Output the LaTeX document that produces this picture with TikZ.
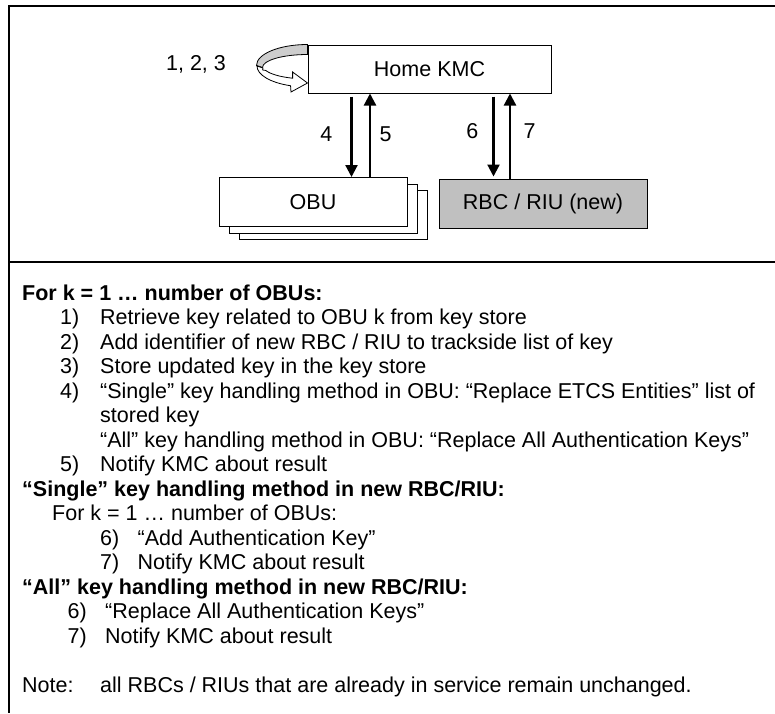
\documentclass[tikz,border=0pt]{standalone}
\usepackage{fontspec}
\setmainfont{Liberation Sans}
\usetikzlibrary{arrows.meta}
\definecolor{rbcgrey}{RGB}{192,192,192}
\definecolor{loopgrey}{RGB}{205,205,205}

\begin{document}
\begin{tikzpicture}[x=1pt, y=-1pt,
  every node/.style={font=\fontsize{21.5}{24}\selectfont},
  box/.style={draw=black, line width=1pt, fill=white, inner sep=0pt},
  flow/.style={line width=2.2pt, -{Triangle[length=12pt, width=12pt]}},
  frame/.style={line width=1.5pt},
  num/.style={inner sep=0pt},
  txt/.style={anchor=base west, inner sep=0pt},
  head/.style={txt, font=\fontsize{21.5}{24}\selectfont\bfseries}]
 \useasboundingbox (0,0) rectangle (775,713);
 % frame
 \draw[frame] (775,6) -- (9,6) -- (9,713);
 \draw[frame] (9,262) -- (775,262);
 \begin{scope}
        \node[box, minimum width=243pt, minimum height=48pt] (kmc) at (429.5,69) {Home KMC};
        \node[box, minimum width=188pt, minimum height=49pt] (obu-3) at (333.5,214.5) {};
        \node[box, minimum width=188pt, minimum height=49pt] (obu-2) at (323.5,208.5) {};
        \node[box, minimum width=188pt, minimum height=49pt] (obu) at (313,202) {OBU};
        \node[box, fill=rbcgrey, minimum width=208pt, minimum height=49pt] (rbc) at (543,203.5) {RBC / RIU (new)};
        \node[inner sep=0pt] (loop-lbl) at (196,64) {1, 2, 3};
        % loop arrow round the left side of the KMC box
        \draw[line width=0.8pt, fill=loopgrey] (kmc.north west) arc[start angle=270, end angle=180, x radius=51, y radius=21] -- ++(6,2) arc[start angle=180, end angle=270, x radius=45, y radius=13] -- cycle;
        \draw[line width=0.8pt, fill=white] (257,66) arc[start angle=180, end angle=110, x radius=51, y radius=21] -- (291,92) -- (kmc.west |- 0,83) -- (292.6,72) -- (292.6,78.2) arc[start angle=110, end angle=160, x radius=45, y radius=13] .. controls (262,70) .. (263,68) -- cycle;
        \draw[flow] ([xshift=44pt, yshift=-3pt]kmc.south west) -- ([xshift=44pt]kmc.south west |- obu.north) node[midway, num, left=18pt, yshift=2.5pt] {4};
        \draw[flow] ([xshift=62.5pt]kmc.south west |- obu.north) -- ([xshift=62.5pt]kmc.south west) node[midway, num, right=8.4pt, yshift=1pt] {5};
        \draw[flow] ([xshift=186pt, yshift=-3pt]kmc.south west) -- ([xshift=186pt, yshift=2pt]kmc.south west |- rbc.north) node[midway, num, left=14pt, yshift=5.5pt] {6};
        \draw[flow] ([xshift=202.5pt]kmc.south west |- rbc.north) -- ([xshift=202.5pt]kmc.south west) node[midway, num, right=12.5pt, yshift=5pt] {7};
 \end{scope}
 % text below the line
 \node[head] (hdr-obu) at (22,300) {For k = 1 … number of OBUs:};
 \node[txt] (n1) at (60,324.5) {1)};
 \node[txt] (t1) at (100,324.5) {Retrieve key related to OBU k from key store};
 \node[txt] (n2) at (60,349) {2)};
 \node[txt] (t2) at (100,349) {Add identifier of new RBC / RIU to trackside list of key};
 \node[txt] (n3) at (60,373.5) {3)};
 \node[txt] (t3) at (100,373.5) {Store updated key in the key store};
 \node[txt] (n4) at (60,398) {4)};
 \node[txt] (t4) at (100,398) {“Single” key handling method in OBU: “Replace ETCS Entities” list of};
 \node[txt] (t4b) at (100,422.5) {stored key};
 \node[txt] (t4c) at (100,447) {“All” key handling method in OBU: “Replace All Authentication Keys”};
 \node[txt] (n5) at (60,471.5) {5)};
 \node[txt] (t5) at (100,471.5) {Notify KMC about result};
 \node[head] (hdr-single) at (22,496) {“Single” key handling method in new RBC/RIU:};
 \node[txt] (sub-loop) at (52,520.5) {For k = 1 … number of OBUs:};
 \node[txt] (s6n) at (100,545) {6)};
 \node[txt] (s6t) at (137.5,545) {“Add Authentication Key”};
 \node[txt] (s7n) at (100,569.5) {7)};
 \node[txt] (s7t) at (137.5,569.5) {Notify KMC about result};
 \node[head] (hdr-all) at (22,594) {“All” key handling method in new RBC/RIU:};
 \node[txt] (a6n) at (67.5,618.5) {6)};
 \node[txt] (a6t) at (105,618.5) {“Replace All Authentication Keys”};
 \node[txt] (a7n) at (67.5,643) {7)};
 \node[txt] (a7t) at (105,643) {Notify KMC about result};
 \node[txt] (note-lbl) at (22,692) {Note:};
 \node[txt] (note-txt) at (100,692) {all RBCs / RIUs that are already in service remain unchanged.};
\end{tikzpicture}
\end{document}
